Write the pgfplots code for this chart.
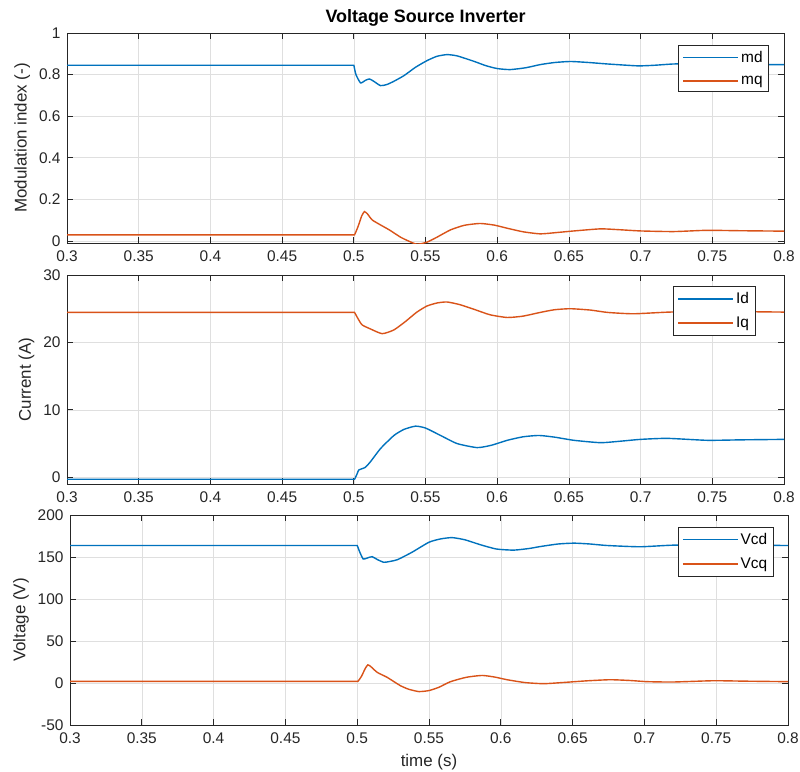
\documentclass[border=0pt]{standalone}
\usepackage{pgfplots}
\pgfplotsset{compat=1.18}
\usepackage{fontspec}
\setmainfont{Liberation Sans}
\definecolor{mblue}{rgb}{0,0.447,0.741}
\definecolor{morange}{rgb}{0.85,0.325,0.098}
\definecolor{axgray}{gray}{0.15}
\pgfplotsset{
  panel/.style={
    scale only axis, width=717bp, height=210bp,
    xmin=0.3, xmax=0.8,
    xtick={0.3,0.35,0.4,0.45,0.5,0.55,0.6,0.65,0.7,0.75,0.8},
    xticklabels={0.3,0.35,0.4,0.45,0.5,0.55,0.6,0.65,0.7,0.75,0.8},
    grid=major, major grid style={gray!25, line width=0.6bp},
    axis line style={axgray, line width=0.7bp},
    tick style={axgray, line width=0.7bp}, major tick length=6bp,
    tick align=inside,
    /pgf/number format/assume math mode=true,
    tick label style={font=\fontsize{15.5}{18}\selectfont, text=axgray},
    xticklabel style={yshift=-4bp},
    yticklabel style={xshift=-3bp},
    label style={font=\fontsize{17}{20}\selectfont, text=axgray},
    ylabel style={yshift=2bp},
    legend style={font=\fontsize{15.5}{18}\selectfont, draw=axgray, line width=0.7bp, fill=white,
      anchor=north east, row sep=8bp, inner xsep=4bp, inner ysep=4bp, cells={anchor=west}},
    legend image code/.code={\draw[#1, line width=1.6bp] (0bp,0bp) -- (55bp,0bp);},
    every axis plot/.append style={line width=1.4bp, smooth, tension=0.35},
    clip mode=individual,
  }
}
\begin{document}
\begin{tikzpicture}
\useasboundingbox (0,0) rectangle (800bp,-772bp);
% Panel 1
\begin{axis}[panel, at={(67bp,-33bp)}, anchor=north west,
  ymin=-0.01, ymax=1, ytick={0,0.2,0.4,0.6,0.8,1},
  yticklabels={0,0.2,0.4,0.6,0.8,1},
  ylabel={Modulation index (-)},
  title={\textbf{Voltage Source Inverter}},
  title style={font=\fontsize{18}{21}\selectfont\bfseries, yshift=-3bp},
  legend style={at={(0.979,0.943)}}]
\addplot[mblue] coordinates {(0.3,0.845) (0.4,0.845) (0.49,0.845) (0.497,0.845) (0.4995,0.845) (0.5,0.845) (0.5015,0.80) (0.5047,0.76) (0.508,0.772) (0.511,0.779) (0.5145,0.765) (0.5186,0.747) (0.523,0.752) (0.528,0.768) (0.535,0.795) (0.543,0.835) (0.551,0.867) (0.558,0.888) (0.565,0.896) (0.572,0.89) (0.5837,0.864) (0.592,0.843) (0.6,0.829) (0.609,0.824) (0.62,0.833) (0.630,0.848) (0.64,0.858) (0.651,0.863) (0.664,0.858) (0.677,0.851) (0.698,0.842) (0.71,0.845) (0.723,0.851) (0.74,0.852) (0.76,0.849) (0.78,0.848) (0.8,0.848)};
\addlegendentry{md}
\addplot[morange] coordinates {(0.3,0.029) (0.4,0.029) (0.49,0.029) (0.497,0.029) (0.4995,0.029) (0.5005,0.029) (0.503,0.07) (0.5055,0.12) (0.5074,0.141) (0.5095,0.13) (0.5128,0.101) (0.5186,0.077) (0.525,0.052) (0.5326,0.018) (0.538,0.0) (0.544,-0.016) (0.551,-0.006) (0.558,0.018) (0.5674,0.053) (0.577,0.075) (0.588,0.084) (0.598,0.076) (0.607,0.061) (0.618,0.044) (0.630,0.034) (0.641,0.04) (0.6535,0.048) (0.672,0.058) (0.685,0.054) (0.7,0.048) (0.723,0.045) (0.746,0.051) (0.77,0.049) (0.8,0.047)};
\addlegendentry{mq}
\end{axis}
% Panel 2
\begin{axis}[panel, at={(67bp,-275bp)}, anchor=north west, height=209bp,
  ymin=-1, ymax=30, ytick={0,10,20,30},
  yticklabels={0,10,20,30},
  ylabel={Current (A)},
  legend style={at={(0.96,0.947)}}]
\addplot[mblue] coordinates {(0.3,-0.3) (0.4,-0.3) (0.49,-0.3) (0.497,-0.3) (0.4995,-0.3) (0.5005,-0.3) (0.5025,0.6) (0.5035,1.08) (0.508,1.47) (0.5116,2.3) (0.5186,4.25) (0.528,6.2) (0.535,7.1) (0.543,7.58) (0.550,7.3) (0.5605,6.2) (0.572,5.0) (0.586,4.4) (0.596,4.75) (0.607,5.48) (0.618,6.0) (0.629,6.2) (0.64,5.95) (0.6535,5.48) (0.672,5.13) (0.686,5.35) (0.7,5.62) (0.7186,5.77) (0.7465,5.48) (0.77,5.55) (0.8,5.62)};
\addlegendentry{Id}
\addplot[morange] coordinates {(0.3,24.45) (0.4,24.45) (0.49,24.45) (0.497,24.45) (0.4995,24.45) (0.5005,24.45) (0.503,23.5) (0.5058,22.6) (0.5116,22.0) (0.5198,21.3) (0.528,21.86) (0.536,23.1) (0.544,24.5) (0.551,25.4) (0.558,25.85) (0.565,26.0) (0.574,25.6) (0.584,24.9) (0.595,24.1) (0.607,23.7) (0.618,23.9) (0.630,24.45) (0.64,24.85) (0.651,25.0) (0.665,24.8) (0.677,24.45) (0.695,24.25) (0.72,24.5) (0.75,24.6) (0.8,24.5)};
\addlegendentry{Iq}
\end{axis}
% Panel 3
\begin{axis}[panel, at={(70bp,-515bp)}, anchor=north west, width=718bp,
  ymin=-50, ymax=200, ytick={-50,0,50,100,150,200},
  yticklabels={-50,0,50,100,150,200},
  ylabel={Voltage (V)},
  xlabel={time (s)},
  xlabel style={yshift=-4bp},
  legend style={at={(0.98,0.943)}}]
\addplot[mblue] coordinates {(0.3,163.7) (0.4,163.7) (0.49,163.7) (0.497,163.7) (0.4995,163.7) (0.5,163.7) (0.502,155) (0.5042,147.6) (0.507,148.8) (0.5104,150.4) (0.514,147) (0.5186,143.7) (0.523,144.8) (0.528,146.8) (0.538,155.5) (0.55,167.6) (0.558,171.5) (0.566,173.1) (0.575,170.5) (0.586,164.5) (0.597,159.5) (0.609,158.2) (0.62,160.2) (0.6276,162.5) (0.64,165.5) (0.651,166.5) (0.662,165.5) (0.674,163.7) (0.697,162.2) (0.72,164.1) (0.75,164.2) (0.8,163.7)};
\addlegendentry{Vcd}
\addplot[morange] coordinates {(0.3,1.96) (0.4,1.96) (0.49,1.96) (0.497,1.96) (0.4995,1.96) (0.5005,1.96) (0.503,8) (0.5055,17) (0.5074,21.6) (0.5095,19.5) (0.514,12.6) (0.5209,6.7) (0.530,-3.1) (0.536,-7.5) (0.543,-10.2) (0.55,-9.0) (0.557,-5) (0.565,1.6) (0.576,6.8) (0.587,9.0) (0.596,7.0) (0.6044,3.9) (0.617,0.5) (0.63,-0.8) (0.645,0.8) (0.66,2.6) (0.676,3.9) (0.69,3.0) (0.702,1.6) (0.72,1.2) (0.748,2.7) (0.77,2.2) (0.8,1.6)};
\addlegendentry{Vcq}
\end{axis}
\end{tikzpicture}
\end{document}
